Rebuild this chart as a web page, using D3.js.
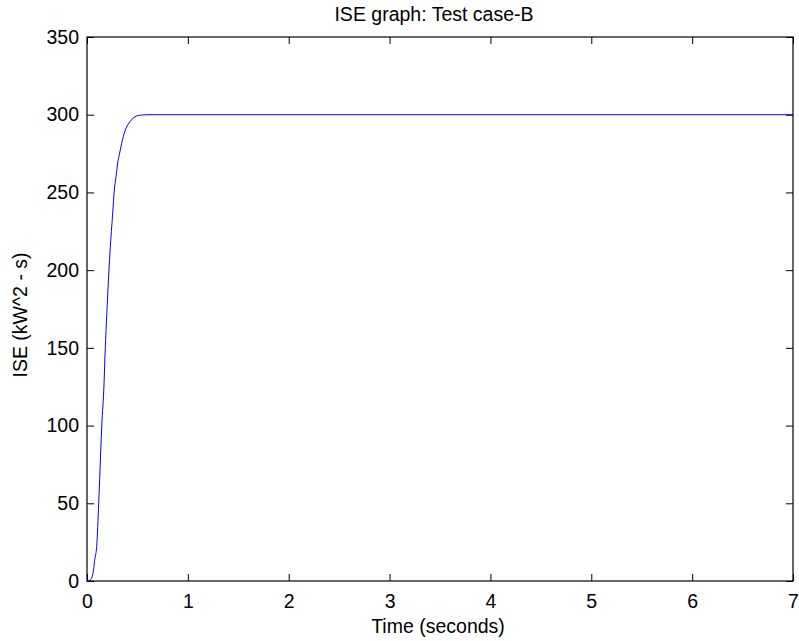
<!DOCTYPE html>
<html>
<head>
<meta charset="utf-8">
<script src="https://cdn.jsdelivr.net/npm/d3@7"></script>
<style>
  body { margin: 0; background: #fff; }
  text { font-family: "Liberation Sans", Arial, sans-serif; }
</style>
</head>
<body>
<div id="chart"></div>
<script>
// values
const time = [0, 0.03, 0.056, 0.079, 0.096, 0.116, 0.129, 0.146, 0.169, 0.178, 0.195, 0.211,
  0.228, 0.255, 0.271, 0.288, 0.304, 0.32, 0.344, 0.36, 0.387, 0.426, 0.466, 0.509, 0.592, 7];
const ise = [0, 0.6, 3.9, 14.6, 22.1, 50, 71.4, 99.3, 127.2, 144.3, 170, 191.5,
  211.7, 236.8, 251.6, 260.1, 268.9, 274.1, 281.6, 285.9, 291.3, 295.5, 298.3, 299.5, 300, 300];
const xTicks = [0, 1, 2, 3, 4, 5, 6, 7];
const yTicks = [0, 50, 100, 150, 200, 250, 300, 350];

const w = 799, h = 641;
const m = { top: 37, right: 6, bottom: 60, left: 87 };
const iw = w - m.left - m.right, ih = h - m.top - m.bottom;

const svg = d3.select("#chart")
  .append("svg")
  .attr("width", w)
  .attr("height", h);

const g = svg.append("g")
  .attr("transform", `translate(${m.left},${m.top})`);

const x = d3.scaleLinear().domain([0, 7]).range([0, iw]);
const y = d3.scaleLinear().domain([0, 350]).range([ih, 0]);
const fmt = d3.format("d");

function style(sel) {
  sel.select(".domain").remove();
  sel.selectAll(".tick line").attr("stroke", "#000");
  sel.selectAll(".tick text").attr("fill", "#000").style("font-size", "19.5px");
}

// ticks point inward on all four sides, like a matlab box
g.append("g")
  .attr("transform", `translate(0,${ih})`)
  .call(d3.axisBottom(x).tickValues(xTicks).tickFormat(fmt).tickSizeInner(-7).tickSizeOuter(0).tickPadding(13))
  .call(style);
g.append("g")
  .call(d3.axisTop(x).tickValues(xTicks).tickSizeInner(-7).tickSizeOuter(0).tickFormat(""))
  .call(style);
g.append("g")
  .call(d3.axisLeft(y).tickValues(yTicks).tickFormat(fmt).tickSizeInner(-7).tickSizeOuter(0).tickPadding(8))
  .call(style);
g.append("g")
  .attr("transform", `translate(${iw},0)`)
  .call(d3.axisRight(y).tickValues(yTicks).tickSizeInner(-7).tickSizeOuter(0).tickFormat(""))
  .call(style);

g.append("rect")
  .attr("width", iw)
  .attr("height", ih)
  .attr("fill", "none")
  .attr("stroke", "#000")
  .attr("stroke-width", 1.2);

const line = d3.line()
  .x((d, i) => x(time[i]))
  .y(d => y(d))
  .curve(d3.curveMonotoneX);

g.append("path")
  .datum(ise)
  .attr("fill", "none")
  .attr("stroke", "#0000ff")
  .attr("stroke-width", 1)
  .attr("d", line);

svg.append("text")
  .attr("x", 434)
  .attr("y", 21)
  .attr("text-anchor", "middle")
  .style("font-size", "19.5px")
  .text("ISE graph: Test case-B");

svg.append("text")
  .attr("x", 438)
  .attr("y", 633)
  .attr("text-anchor", "middle")
  .style("font-size", "19.5px")
  .text("Time (seconds)");

svg.append("text")
  .attr("transform", `translate(27,315) rotate(-90)`)
  .attr("text-anchor", "middle")
  .style("font-size", "19.5px")
  .text("ISE (kW^2 - s)");
</script>
</body>
</html>
